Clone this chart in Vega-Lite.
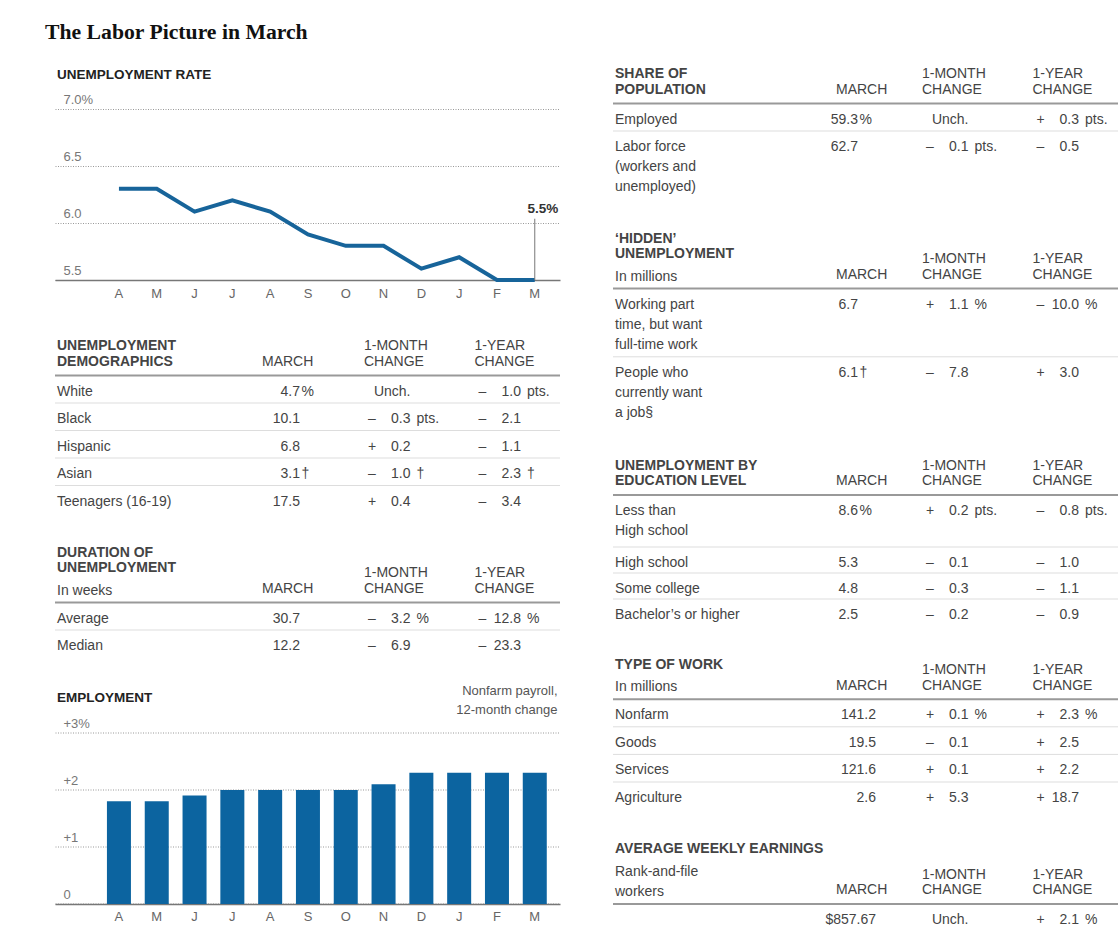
{
  "$schema": "https://vega.github.io/schema/vega-lite/v6.json",
  "padding": {"left": 45, "top": 21, "right": 0, "bottom": 0},
  "background": "white",
  "title": {"text": "The Labor Picture in March", "font": "Liberation Serif", "fontSize": 21.7, "fontWeight": "bold", "color": "#111", "anchor": "start", "frame": "group", "dx": -10, "offset": 24},
  "spacing": 51,
  "datasets": {
    "rate": [
      {"month": "Apr 2014", "rate": 6.3}, {"month": "May 2014", "rate": 6.3}, {"month": "Jun 2014", "rate": 6.1},
      {"month": "Jul 2014", "rate": 6.2}, {"month": "Aug 2014", "rate": 6.1}, {"month": "Sep 2014", "rate": 5.9},
      {"month": "Oct 2014", "rate": 5.8}, {"month": "Nov 2014", "rate": 5.8}, {"month": "Dec 2014", "rate": 5.6},
      {"month": "Jan 2015", "rate": 5.7}, {"month": "Feb 2015", "rate": 5.5}, {"month": "Mar 2015", "rate": 5.5}
    ],
    "payroll": [
      {"month": "Apr 2014", "change": 1.8}, {"month": "May 2014", "change": 1.8}, {"month": "Jun 2014", "change": 1.9},
      {"month": "Jul 2014", "change": 2.0}, {"month": "Aug 2014", "change": 2.0}, {"month": "Sep 2014", "change": 2.0},
      {"month": "Oct 2014", "change": 2.0}, {"month": "Nov 2014", "change": 2.1}, {"month": "Dec 2014", "change": 2.3},
      {"month": "Jan 2015", "change": 2.3}, {"month": "Feb 2015", "change": 2.3}, {"month": "Mar 2015", "change": 2.3}
    ],
    "cells": [
      {"t": "demo", "item": "head", "col": "label", "num": ["UNEMPLOYMENT", "DEMOGRAPHICS"]},
      {"t": "demo", "item": "head", "col": "march", "num": "MARCH"},
      {"t": "demo", "item": "head", "col": "m1", "num": ["1-MONTH", "CHANGE"]},
      {"t": "demo", "item": "head", "col": "y1", "num": ["1-YEAR", "CHANGE"]},
      {"t": "demo", "item": "White", "col": "label", "num": "White"},
      {"t": "demo", "item": "White", "col": "march", "num": "4.7", "unit": "%"},
      {"t": "demo", "item": "White", "col": "m1", "num": "Unch."},
      {"t": "demo", "item": "White", "col": "y1", "sign": "–", "num": "1.0", "unit": "pts."},
      {"t": "demo", "item": "Black", "col": "label", "num": "Black"},
      {"t": "demo", "item": "Black", "col": "march", "num": "10.1"},
      {"t": "demo", "item": "Black", "col": "m1", "sign": "–", "num": "0.3", "unit": "pts."},
      {"t": "demo", "item": "Black", "col": "y1", "sign": "–", "num": "2.1"},
      {"t": "demo", "item": "Hispanic", "col": "label", "num": "Hispanic"},
      {"t": "demo", "item": "Hispanic", "col": "march", "num": "6.8"},
      {"t": "demo", "item": "Hispanic", "col": "m1", "sign": "+", "num": "0.2"},
      {"t": "demo", "item": "Hispanic", "col": "y1", "sign": "–", "num": "1.1"},
      {"t": "demo", "item": "Asian", "col": "label", "num": "Asian"},
      {"t": "demo", "item": "Asian", "col": "march", "num": "3.1", "unit": "†"},
      {"t": "demo", "item": "Asian", "col": "m1", "sign": "–", "num": "1.0", "unit": "†"},
      {"t": "demo", "item": "Asian", "col": "y1", "sign": "–", "num": "2.3", "unit": "†"},
      {"t": "demo", "item": "Teenagers (16-19)", "col": "label", "num": "Teenagers (16-19)"},
      {"t": "demo", "item": "Teenagers (16-19)", "col": "march", "num": "17.5"},
      {"t": "demo", "item": "Teenagers (16-19)", "col": "m1", "sign": "+", "num": "0.4"},
      {"t": "demo", "item": "Teenagers (16-19)", "col": "y1", "sign": "–", "num": "3.4"},

      {"t": "dur", "item": "head", "col": "label", "num": ["DURATION OF", "UNEMPLOYMENT"], "sub": "In weeks"},
      {"t": "dur", "item": "head", "col": "march", "num": "MARCH"},
      {"t": "dur", "item": "head", "col": "m1", "num": ["1-MONTH", "CHANGE"]},
      {"t": "dur", "item": "head", "col": "y1", "num": ["1-YEAR", "CHANGE"]},
      {"t": "dur", "item": "Average", "col": "label", "num": "Average"},
      {"t": "dur", "item": "Average", "col": "march", "num": "30.7"},
      {"t": "dur", "item": "Average", "col": "m1", "sign": "–", "num": "3.2", "unit": "%"},
      {"t": "dur", "item": "Average", "col": "y1", "sign": "–", "num": "12.8", "unit": "%"},
      {"t": "dur", "item": "Median", "col": "label", "num": "Median"},
      {"t": "dur", "item": "Median", "col": "march", "num": "12.2"},
      {"t": "dur", "item": "Median", "col": "m1", "sign": "–", "num": "6.9"},
      {"t": "dur", "item": "Median", "col": "y1", "sign": "–", "num": "23.3"},

      {"t": "share", "item": "head", "col": "label", "num": ["SHARE OF", "POPULATION"]},
      {"t": "share", "item": "head", "col": "march", "num": "MARCH"},
      {"t": "share", "item": "head", "col": "m1", "num": ["1-MONTH", "CHANGE"]},
      {"t": "share", "item": "head", "col": "y1", "num": ["1-YEAR", "CHANGE"]},
      {"t": "share", "item": "Employed", "col": "label", "num": "Employed"},
      {"t": "share", "item": "Employed", "col": "march", "num": "59.3", "unit": "%"},
      {"t": "share", "item": "Employed", "col": "m1", "num": "Unch."},
      {"t": "share", "item": "Employed", "col": "y1", "sign": "+", "num": "0.3", "unit": "pts."},
      {"t": "share", "item": "Labor force", "col": "label", "num": ["Labor force", "(workers and", "unemployed)"]},
      {"t": "share", "item": "Labor force", "col": "march", "num": "62.7"},
      {"t": "share", "item": "Labor force", "col": "m1", "sign": "–", "num": "0.1", "unit": "pts."},
      {"t": "share", "item": "Labor force", "col": "y1", "sign": "–", "num": "0.5"},

      {"t": "hidden", "item": "head", "col": "label", "num": ["‘HIDDEN’", "UNEMPLOYMENT"], "sub": "In millions"},
      {"t": "hidden", "item": "head", "col": "march", "num": "MARCH"},
      {"t": "hidden", "item": "head", "col": "m1", "num": ["1-MONTH", "CHANGE"]},
      {"t": "hidden", "item": "head", "col": "y1", "num": ["1-YEAR", "CHANGE"]},
      {"t": "hidden", "item": "Working part time", "col": "label", "num": ["Working part", "time, but want", "full-time work"]},
      {"t": "hidden", "item": "Working part time", "col": "march", "num": "6.7"},
      {"t": "hidden", "item": "Working part time", "col": "m1", "sign": "+", "num": "1.1", "unit": "%"},
      {"t": "hidden", "item": "Working part time", "col": "y1", "sign": "–", "num": "10.0", "unit": "%"},
      {"t": "hidden", "item": "Want a job", "col": "label", "num": ["People who", "currently want", "a job§"]},
      {"t": "hidden", "item": "Want a job", "col": "march", "num": "6.1", "unit": "†"},
      {"t": "hidden", "item": "Want a job", "col": "m1", "sign": "–", "num": "7.8"},
      {"t": "hidden", "item": "Want a job", "col": "y1", "sign": "+", "num": "3.0"},

      {"t": "edu", "item": "head", "col": "label", "num": ["UNEMPLOYMENT BY", "EDUCATION LEVEL"]},
      {"t": "edu", "item": "head", "col": "march", "num": "MARCH"},
      {"t": "edu", "item": "head", "col": "m1", "num": ["1-MONTH", "CHANGE"]},
      {"t": "edu", "item": "head", "col": "y1", "num": ["1-YEAR", "CHANGE"]},
      {"t": "edu", "item": "Less than high school", "col": "label", "num": ["Less than", "High school"]},
      {"t": "edu", "item": "Less than high school", "col": "march", "num": "8.6", "unit": "%"},
      {"t": "edu", "item": "Less than high school", "col": "m1", "sign": "+", "num": "0.2", "unit": "pts."},
      {"t": "edu", "item": "Less than high school", "col": "y1", "sign": "–", "num": "0.8", "unit": "pts."},
      {"t": "edu", "item": "High school", "col": "label", "num": "High school"},
      {"t": "edu", "item": "High school", "col": "march", "num": "5.3"},
      {"t": "edu", "item": "High school", "col": "m1", "sign": "–", "num": "0.1"},
      {"t": "edu", "item": "High school", "col": "y1", "sign": "–", "num": "1.0"},
      {"t": "edu", "item": "Some college", "col": "label", "num": "Some college"},
      {"t": "edu", "item": "Some college", "col": "march", "num": "4.8"},
      {"t": "edu", "item": "Some college", "col": "m1", "sign": "–", "num": "0.3"},
      {"t": "edu", "item": "Some college", "col": "y1", "sign": "–", "num": "1.1"},
      {"t": "edu", "item": "Bachelor’s or higher", "col": "label", "num": "Bachelor’s or higher"},
      {"t": "edu", "item": "Bachelor’s or higher", "col": "march", "num": "2.5"},
      {"t": "edu", "item": "Bachelor’s or higher", "col": "m1", "sign": "–", "num": "0.2"},
      {"t": "edu", "item": "Bachelor’s or higher", "col": "y1", "sign": "–", "num": "0.9"},

      {"t": "type", "item": "head", "col": "label", "num": "TYPE OF WORK", "sub": "In millions"},
      {"t": "type", "item": "head", "col": "march", "num": "MARCH"},
      {"t": "type", "item": "head", "col": "m1", "num": ["1-MONTH", "CHANGE"]},
      {"t": "type", "item": "head", "col": "y1", "num": ["1-YEAR", "CHANGE"]},
      {"t": "type", "item": "Nonfarm", "col": "label", "num": "Nonfarm"},
      {"t": "type", "item": "Nonfarm", "col": "march", "num": "141.2"},
      {"t": "type", "item": "Nonfarm", "col": "m1", "sign": "+", "num": "0.1", "unit": "%"},
      {"t": "type", "item": "Nonfarm", "col": "y1", "sign": "+", "num": "2.3", "unit": "%"},
      {"t": "type", "item": "Goods", "col": "label", "num": "Goods"},
      {"t": "type", "item": "Goods", "col": "march", "num": "19.5"},
      {"t": "type", "item": "Goods", "col": "m1", "sign": "–", "num": "0.1"},
      {"t": "type", "item": "Goods", "col": "y1", "sign": "+", "num": "2.5"},
      {"t": "type", "item": "Services", "col": "label", "num": "Services"},
      {"t": "type", "item": "Services", "col": "march", "num": "121.6"},
      {"t": "type", "item": "Services", "col": "m1", "sign": "+", "num": "0.1"},
      {"t": "type", "item": "Services", "col": "y1", "sign": "+", "num": "2.2"},
      {"t": "type", "item": "Agriculture", "col": "label", "num": "Agriculture"},
      {"t": "type", "item": "Agriculture", "col": "march", "num": "2.6"},
      {"t": "type", "item": "Agriculture", "col": "m1", "sign": "+", "num": "5.3"},
      {"t": "type", "item": "Agriculture", "col": "y1", "sign": "+", "num": "18.7"},

      {"t": "earn", "item": "head", "col": "label", "num": "AVERAGE WEEKLY EARNINGS", "sub": ["Rank-and-file", "workers"]},
      {"t": "earn", "item": "head", "col": "march", "num": "MARCH"},
      {"t": "earn", "item": "head", "col": "m1", "num": ["1-MONTH", "CHANGE"]},
      {"t": "earn", "item": "head", "col": "y1", "num": ["1-YEAR", "CHANGE"]},
      {"t": "earn", "item": "Rank-and-file workers", "col": "label", "num": ""},
      {"t": "earn", "item": "Rank-and-file workers", "col": "march", "num": "$857.67"},
      {"t": "earn", "item": "Rank-and-file workers", "col": "m1", "num": "Unch."},
      {"t": "earn", "item": "Rank-and-file workers", "col": "y1", "sign": "+", "num": "2.1", "unit": "%"}
    ]
  },
  "hconcat": [
    {
      "bounds": "flush",
      "spacing": 61.5,
      "vconcat": [
        {
          "width": 505,
          "height": 204.06,
          "title": {"text": "UNEMPLOYMENT RATE", "anchor": "start", "frame": "group", "dx": 2, "offset": -5.4},
          "data": {"name": "rate"},
          "encoding": {
            "x": {"field": "month", "type": "ordinal",
              "scale": {"type": "band", "domain": ["Apr 2014","May 2014","Jun 2014","Jul 2014","Aug 2014","Sep 2014","Oct 2014","Nov 2014","Dec 2014","Jan 2015","Feb 2015","Mar 2015"], "paddingInner": 0.365, "paddingOuter": 0.862, "align": 0.797},
              "axis": {"title": null, "labelExpr": "slice(datum.label, 0, 1)", "labelAngle": 0, "ticks": false, "grid": false, "domainColor": "#777", "domainWidth": 1.5, "labelPadding": 7, "labelFontSize": 13, "labelColor": "#666"}},
            "y": {"field": "rate", "type": "quantitative",
              "scale": {"domain": [5.5, 7.29], "nice": false, "zero": false},
              "axis": {"title": null, "values": [5.5, 6, 6.5, 7], "grid": true, "gridDash": [1, 1.5], "gridColor": "#999", "domain": false, "ticks": false, "labelAlign": "left", "labelBaseline": "alphabetic", "labelPadding": -8, "labelOffset": -5.3, "labelFontSize": 13, "labelColor": "#777", "labelExpr": "datum.value == 7 ? '7.0%' : format(datum.value, '.1f')"}}
          },
          "layer": [
            {"mark": {"type": "line", "color": "#17649a", "strokeWidth": 4}},
            {"transform": [{"filter": "datum.month == 'Mar 2015'"}],
             "mark": {"type": "rule", "color": "#777", "strokeWidth": 1},
             "encoding": {"y2": {"datum": 6.038}}},
            {"transform": [{"filter": "datum.month == 'Mar 2015'"}, {"calculate": "format(datum.rate, '.1f') + '%'", "as": "lab"}],
             "mark": {"type": "text", "fontWeight": "bold", "fontSize": 13.5, "fill": "#333", "align": "center", "baseline": "alphabetic", "dx": 8, "dy": -66.6},
             "encoding": {"text": {"field": "lab", "type": "nominal"}}}
          ]
        },
        {
          "width": 505, "height": 170.5,
          "data": {"name": "cells"},
          "transform": [{"filter": "datum.t == 'demo'"}],
          "encoding": {"y": {"field": "item", "type": "nominal", "bandPosition": 0, "axis": null, "scale": {"type": "band", "domain": ["head", "White", "Black", "Hispanic", "Asian", "Teenagers (16-19)"], "paddingInner": 0, "paddingOuter": 0.1, "align": 1}}},
          "layer": [
            {"transform": [{"filter": "datum.col == 'label' && datum.item != 'head'"}, {"window": [{"op": "row_number", "as": "rn"}]}],
             "mark": {"type": "rule"},
             "encoding": {"color": {"condition": {"test": "datum.rn == 1", "value": "#999"}, "value": "#ddd"}, "strokeWidth": {"condition": {"test": "datum.rn == 1", "value": 2}, "value": 1}}},
            {"encoding": {"x": {"field": "col", "type": "nominal", "bandPosition": 1, "axis": null, "scale": {"type": "band", "domain": ["label", "march", "m1", "y1"], "paddingInner": 0, "paddingOuter": 0.285, "align": 0.381}}},
             "layer": [
               {"transform": [{"filter": "datum.item != 'head' && datum.col == 'label'"}], "mark": {"type": "text", "style": "lab"}, "encoding": {"text": {"field": "num", "type": "nominal"}}},
               {"transform": [{"filter": "datum.item != 'head' && datum.col != 'label'"}], "mark": {"type": "text", "style": "num"}, "encoding": {"text": {"field": "num", "type": "nominal"}}},
               {"transform": [{"filter": "datum.item != 'head' && datum.sign"}], "mark": {"type": "text", "style": "sgn"}, "encoding": {"text": {"field": "sign", "type": "nominal"}}},
               {"transform": [{"filter": "datum.item != 'head' && datum.unit && datum.col == 'march'"}], "mark": {"type": "text", "style": "unit"}, "encoding": {"text": {"field": "unit", "type": "nominal"}}},
               {"transform": [{"filter": "datum.item != 'head' && datum.unit && datum.col != 'march'"}], "mark": {"type": "text", "style": "unit", "dx": 6}, "encoding": {"text": {"field": "unit", "type": "nominal"}}},
               {"transform": [{"filter": "datum.item == 'head' && datum.col == 'label'"}], "mark": {"type": "text", "style": "htitle", "dy": 5.3}, "encoding": {"text": {"field": "num", "type": "nominal"}}},
               {"transform": [{"filter": "datum.item == 'head' && datum.col == 'march'"}], "mark": {"type": "text", "style": "hcol", "dx": -38, "dy": 20.9}, "encoding": {"text": {"field": "num", "type": "nominal"}}},
               {"transform": [{"filter": "datum.item == 'head' && (datum.col == 'm1' || datum.col == 'y1')"}], "mark": {"type": "text", "style": "hcol", "dy": 5.2}, "encoding": {"text": {"field": "num", "type": "nominal"}}}
             ]}
          ]
        },
        {
          "width": 505, "height": 82.5,
          "data": {"name": "cells"},
          "transform": [{"filter": "datum.t == 'dur'"}],
          "encoding": {"y": {"field": "item", "type": "nominal", "bandPosition": 0, "axis": null, "scale": {"type": "band", "domain": ["head", "Average", "Median"], "paddingInner": 0, "paddingOuter": 0}}},
          "layer": [
            {"transform": [{"filter": "datum.col == 'label' && datum.item != 'head'"}, {"window": [{"op": "row_number", "as": "rn"}]}],
             "mark": {"type": "rule"},
             "encoding": {"color": {"condition": {"test": "datum.rn == 1", "value": "#999"}, "value": "#ddd"}, "strokeWidth": {"condition": {"test": "datum.rn == 1", "value": 2}, "value": 1}}},
            {"encoding": {"x": {"field": "col", "type": "nominal", "bandPosition": 1, "axis": null, "scale": {"type": "band", "domain": ["label", "march", "m1", "y1"], "paddingInner": 0, "paddingOuter": 0.285, "align": 0.381}}},
             "layer": [
               {"transform": [{"filter": "datum.item != 'head' && datum.col == 'label'"}], "mark": {"type": "text", "style": "lab"}, "encoding": {"text": {"field": "num", "type": "nominal"}}},
               {"transform": [{"filter": "datum.item != 'head' && datum.col != 'label'"}], "mark": {"type": "text", "style": "num"}, "encoding": {"text": {"field": "num", "type": "nominal"}}},
               {"transform": [{"filter": "datum.item != 'head' && datum.sign"}], "mark": {"type": "text", "style": "sgn"}, "encoding": {"text": {"field": "sign", "type": "nominal"}}},
               {"transform": [{"filter": "datum.item != 'head' && datum.unit && datum.col == 'march'"}], "mark": {"type": "text", "style": "unit"}, "encoding": {"text": {"field": "unit", "type": "nominal"}}},
               {"transform": [{"filter": "datum.item != 'head' && datum.unit && datum.col != 'march'"}], "mark": {"type": "text", "style": "unit", "dx": 6}, "encoding": {"text": {"field": "unit", "type": "nominal"}}},
               {"transform": [{"filter": "datum.item == 'head' && datum.col == 'label'"}], "mark": {"type": "text", "style": "htitle", "dy": -15.5}, "encoding": {"text": {"field": "num", "type": "nominal"}}},
               {"transform": [{"filter": "datum.item == 'head' && datum.col == 'label'"}], "mark": {"type": "text", "style": "hsub", "dy": 22.5}, "encoding": {"text": {"field": "sub", "type": "nominal"}}},
               {"transform": [{"filter": "datum.item == 'head' && datum.col == 'march'"}], "mark": {"type": "text", "style": "hcol", "dx": -38, "dy": 20.9}, "encoding": {"text": {"field": "num", "type": "nominal"}}},
               {"transform": [{"filter": "datum.item == 'head' && (datum.col == 'm1' || datum.col == 'y1')"}], "mark": {"type": "text", "style": "hcol", "dy": 5.2}, "encoding": {"text": {"field": "num", "type": "nominal"}}}
             ]}
          ]
        },
        {
          "width": 505,
          "height": 184.4,
          "title": {"text": "EMPLOYMENT", "anchor": "start", "frame": "group", "dx": 2, "offset": -20.3},
          "data": {"name": "payroll"},
          "mark": {"type": "bar", "color": "#0c64a0"},
          "encoding": {
            "x": {"field": "month", "type": "ordinal",
              "scale": {"type": "band", "domain": ["Apr 2014","May 2014","Jun 2014","Jul 2014","Aug 2014","Sep 2014","Oct 2014","Nov 2014","Dec 2014","Jan 2015","Feb 2015","Mar 2015"], "paddingInner": 0.365, "paddingOuter": 0.862, "align": 0.797},
              "axis": {"title": null, "labelExpr": "slice(datum.label, 0, 1)", "labelAngle": 0, "ticks": false, "grid": false, "domainColor": "#777", "domainWidth": 1.5, "labelPadding": 7, "labelFontSize": 13, "labelColor": "#666"}},
            "y": {"field": "change", "type": "quantitative",
              "scale": {"domain": [0, 3.235], "nice": false},
              "axis": {"title": ["Nonfarm payroll,", "12-month change"], "titleAngle": 0, "titleAlign": "right", "titleBaseline": "alphabetic", "titleX": 502, "titleY": -25.4, "titleFontWeight": "normal", "titleFontSize": 13, "titleColor": "#555", "titleLineHeight": 19,
                "values": [0, 1, 2, 3], "grid": true, "gridDash": [1, 1.5], "gridColor": "#999", "domain": false, "ticks": false, "labelAlign": "left", "labelBaseline": "alphabetic", "labelPadding": -8, "labelOffset": -5.3, "labelFontSize": 13, "labelColor": "#777",
                "labelExpr": "datum.value == 3 ? '+3%' : datum.value == 0 ? '0' : '+' + datum.value"}}
          }
        }
      ]
    },
    {
      "bounds": "flush",
      "spacing": 43.5,
      "vconcat": [
        {
          "width": 505, "height": 82.5,
          "data": {"name": "cells"},
          "transform": [{"filter": "datum.t == 'share'"}],
          "encoding": {"y": {"field": "item", "type": "nominal", "bandPosition": 0, "axis": null, "scale": {"type": "band", "domain": ["head", "Employed", "Labor force"], "paddingInner": 0, "paddingOuter": 0}}},
          "layer": [
            {"transform": [{"filter": "datum.col == 'label' && datum.item != 'head'"}, {"window": [{"op": "row_number", "as": "rn"}]}],
             "mark": {"type": "rule"},
             "encoding": {"color": {"condition": {"test": "datum.rn == 1", "value": "#999"}, "value": "#ddd"}, "strokeWidth": {"condition": {"test": "datum.rn == 1", "value": 2}, "value": 1}}},
            {"encoding": {"x": {"field": "col", "type": "nominal", "bandPosition": 1, "axis": null, "scale": {"type": "band", "domain": ["label", "march", "m1", "y1"], "paddingInner": 0, "paddingOuter": 0.285, "align": 0.381}}},
             "layer": [
               {"transform": [{"filter": "datum.item != 'head' && datum.col == 'label'"}], "mark": {"type": "text", "style": "lab"}, "encoding": {"text": {"field": "num", "type": "nominal"}}},
               {"transform": [{"filter": "datum.item != 'head' && datum.col != 'label'"}], "mark": {"type": "text", "style": "num"}, "encoding": {"text": {"field": "num", "type": "nominal"}}},
               {"transform": [{"filter": "datum.item != 'head' && datum.sign"}], "mark": {"type": "text", "style": "sgn"}, "encoding": {"text": {"field": "sign", "type": "nominal"}}},
               {"transform": [{"filter": "datum.item != 'head' && datum.unit && datum.col == 'march'"}], "mark": {"type": "text", "style": "unit"}, "encoding": {"text": {"field": "unit", "type": "nominal"}}},
               {"transform": [{"filter": "datum.item != 'head' && datum.unit && datum.col != 'march'"}], "mark": {"type": "text", "style": "unit", "dx": 6}, "encoding": {"text": {"field": "unit", "type": "nominal"}}},
               {"transform": [{"filter": "datum.item == 'head' && datum.col == 'label'"}], "mark": {"type": "text", "style": "htitle", "dy": 5.3}, "encoding": {"text": {"field": "num", "type": "nominal"}}},
               {"transform": [{"filter": "datum.item == 'head' && datum.col == 'march'"}], "mark": {"type": "text", "style": "hcol", "dx": -22, "dy": 20.9}, "encoding": {"text": {"field": "num", "type": "nominal"}}},
               {"transform": [{"filter": "datum.item == 'head' && (datum.col == 'm1' || datum.col == 'y1')"}], "mark": {"type": "text", "style": "hcol", "dy": 5.2}, "encoding": {"text": {"field": "num", "type": "nominal"}}}
             ]}
          ]
        },
        {
          "width": 505, "height": 222.6,
          "data": {"name": "cells"},
          "transform": [{"filter": "datum.t == 'hidden'"}],
          "encoding": {"y": {"field": "item", "type": "nominal", "bandPosition": 0, "axis": null, "scale": {"type": "band", "domain": ["head", "Working part time", "Want a job"], "paddingInner": 0, "paddingOuter": 0.1296, "align": 1}}},
          "layer": [
            {"transform": [{"filter": "datum.col == 'label' && datum.item != 'head'"}, {"window": [{"op": "row_number", "as": "rn"}]}],
             "mark": {"type": "rule"},
             "encoding": {"color": {"condition": {"test": "datum.rn == 1", "value": "#999"}, "value": "#ddd"}, "strokeWidth": {"condition": {"test": "datum.rn == 1", "value": 2}, "value": 1}}},
            {"encoding": {"x": {"field": "col", "type": "nominal", "bandPosition": 1, "axis": null, "scale": {"type": "band", "domain": ["label", "march", "m1", "y1"], "paddingInner": 0, "paddingOuter": 0.285, "align": 0.381}}},
             "layer": [
               {"transform": [{"filter": "datum.item != 'head' && datum.col == 'label'"}], "mark": {"type": "text", "style": "lab"}, "encoding": {"text": {"field": "num", "type": "nominal"}}},
               {"transform": [{"filter": "datum.item != 'head' && datum.col != 'label'"}], "mark": {"type": "text", "style": "num"}, "encoding": {"text": {"field": "num", "type": "nominal"}}},
               {"transform": [{"filter": "datum.item != 'head' && datum.sign"}], "mark": {"type": "text", "style": "sgn"}, "encoding": {"text": {"field": "sign", "type": "nominal"}}},
               {"transform": [{"filter": "datum.item != 'head' && datum.unit && datum.col == 'march'"}], "mark": {"type": "text", "style": "unit"}, "encoding": {"text": {"field": "unit", "type": "nominal"}}},
               {"transform": [{"filter": "datum.item != 'head' && datum.unit && datum.col != 'march'"}], "mark": {"type": "text", "style": "unit", "dx": 6}, "encoding": {"text": {"field": "unit", "type": "nominal"}}},
               {"transform": [{"filter": "datum.item == 'head' && datum.col == 'label'"}], "mark": {"type": "text", "style": "htitle", "dy": 25.3}, "encoding": {"text": {"field": "num", "type": "nominal"}}},
               {"transform": [{"filter": "datum.item == 'head' && datum.col == 'label'"}], "mark": {"type": "text", "style": "hsub", "dy": 63.3}, "encoding": {"text": {"field": "sub", "type": "nominal"}}},
               {"transform": [{"filter": "datum.item == 'head' && datum.col == 'march'"}], "mark": {"type": "text", "style": "hcol", "dx": -22, "dy": 61.7}, "encoding": {"text": {"field": "num", "type": "nominal"}}},
               {"transform": [{"filter": "datum.item == 'head' && (datum.col == 'm1' || datum.col == 'y1')"}], "mark": {"type": "text", "style": "hcol", "dy": 46}, "encoding": {"text": {"field": "num", "type": "nominal"}}}
             ]}
          ]
        },
        {
          "width": 505, "height": 156,
          "data": {"name": "cells"},
          "transform": [{"filter": "datum.t == 'edu'"}],
          "encoding": {"y": {"field": "item", "type": "nominal", "bandPosition": 0, "axis": null, "scale": {"type": "band", "domain": ["head", "Less than high school", "Less than high school (cont.)", "High school", "Some college", "Bachelor’s or higher"], "paddingInner": 0, "paddingOuter": 0}}},
          "layer": [
            {"transform": [{"filter": "datum.col == 'label' && datum.item != 'head'"}, {"window": [{"op": "row_number", "as": "rn"}]}],
             "mark": {"type": "rule"},
             "encoding": {"color": {"condition": {"test": "datum.rn == 1", "value": "#999"}, "value": "#ddd"}, "strokeWidth": {"condition": {"test": "datum.rn == 1", "value": 2}, "value": 1}}},
            {"encoding": {"x": {"field": "col", "type": "nominal", "bandPosition": 1, "axis": null, "scale": {"type": "band", "domain": ["label", "march", "m1", "y1"], "paddingInner": 0, "paddingOuter": 0.285, "align": 0.381}}},
             "layer": [
               {"transform": [{"filter": "datum.item != 'head' && datum.col == 'label'"}], "mark": {"type": "text", "style": "lab"}, "encoding": {"text": {"field": "num", "type": "nominal"}}},
               {"transform": [{"filter": "datum.item != 'head' && datum.col != 'label'"}], "mark": {"type": "text", "style": "num"}, "encoding": {"text": {"field": "num", "type": "nominal"}}},
               {"transform": [{"filter": "datum.item != 'head' && datum.sign"}], "mark": {"type": "text", "style": "sgn"}, "encoding": {"text": {"field": "sign", "type": "nominal"}}},
               {"transform": [{"filter": "datum.item != 'head' && datum.unit && datum.col == 'march'"}], "mark": {"type": "text", "style": "unit"}, "encoding": {"text": {"field": "unit", "type": "nominal"}}},
               {"transform": [{"filter": "datum.item != 'head' && datum.unit && datum.col != 'march'"}], "mark": {"type": "text", "style": "unit", "dx": 6}, "encoding": {"text": {"field": "unit", "type": "nominal"}}},
               {"transform": [{"filter": "datum.item == 'head' && datum.col == 'label'"}], "mark": {"type": "text", "style": "htitle", "dy": 3.8}, "encoding": {"text": {"field": "num", "type": "nominal"}}},
               {"transform": [{"filter": "datum.item == 'head' && datum.col == 'march'"}], "mark": {"type": "text", "style": "hcol", "dx": -22, "dy": 19.4}, "encoding": {"text": {"field": "num", "type": "nominal"}}},
               {"transform": [{"filter": "datum.item == 'head' && (datum.col == 'm1' || datum.col == 'y1')"}], "mark": {"type": "text", "style": "hcol", "dy": 3.7}, "encoding": {"text": {"field": "num", "type": "nominal"}}}
             ]}
          ]
        },
        {
          "width": 505, "height": 141.1,
          "data": {"name": "cells"},
          "transform": [{"filter": "datum.t == 'type'"}],
          "encoding": {"y": {"field": "item", "type": "nominal", "bandPosition": 0, "axis": null, "scale": {"type": "band", "domain": ["head", "Nonfarm", "Goods", "Services", "Agriculture"], "paddingInner": 0, "paddingOuter": 0.0562, "align": 1}}},
          "layer": [
            {"transform": [{"filter": "datum.col == 'label' && datum.item != 'head'"}, {"window": [{"op": "row_number", "as": "rn"}]}],
             "mark": {"type": "rule"},
             "encoding": {"color": {"condition": {"test": "datum.rn == 1", "value": "#999"}, "value": "#ddd"}, "strokeWidth": {"condition": {"test": "datum.rn == 1", "value": 2}, "value": 1}}},
            {"encoding": {"x": {"field": "col", "type": "nominal", "bandPosition": 1, "axis": null, "scale": {"type": "band", "domain": ["label", "march", "m1", "y1"], "paddingInner": 0, "paddingOuter": 0.285, "align": 0.381}}},
             "layer": [
               {"transform": [{"filter": "datum.item != 'head' && datum.col == 'label'"}], "mark": {"type": "text", "style": "lab"}, "encoding": {"text": {"field": "num", "type": "nominal"}}},
               {"transform": [{"filter": "datum.item != 'head' && datum.col == 'march'"}], "mark": {"type": "text", "style": "num", "dx": 18}, "encoding": {"text": {"field": "num", "type": "nominal"}}},
               {"transform": [{"filter": "datum.item != 'head' && (datum.col == 'm1' || datum.col == 'y1')"}], "mark": {"type": "text", "style": "num"}, "encoding": {"text": {"field": "num", "type": "nominal"}}},
               {"transform": [{"filter": "datum.item != 'head' && datum.sign"}], "mark": {"type": "text", "style": "sgn"}, "encoding": {"text": {"field": "sign", "type": "nominal"}}},
               {"transform": [{"filter": "datum.item != 'head' && datum.unit && datum.col != 'march'"}], "mark": {"type": "text", "style": "unit", "dx": 6}, "encoding": {"text": {"field": "unit", "type": "nominal"}}},
               {"transform": [{"filter": "datum.item == 'head' && datum.col == 'label'"}], "mark": {"type": "text", "style": "htitle", "dy": 0.3}, "encoding": {"text": {"field": "num", "type": "nominal"}}},
               {"transform": [{"filter": "datum.item == 'head' && datum.col == 'label'"}], "mark": {"type": "text", "style": "hsub", "dy": 22.6}, "encoding": {"text": {"field": "sub", "type": "nominal"}}},
               {"transform": [{"filter": "datum.item == 'head' && datum.col == 'march'"}], "mark": {"type": "text", "style": "hcol", "dx": -22, "dy": 21}, "encoding": {"text": {"field": "num", "type": "nominal"}}},
               {"transform": [{"filter": "datum.item == 'head' && (datum.col == 'm1' || datum.col == 'y1')"}], "mark": {"type": "text", "style": "hcol", "dy": 5.3}, "encoding": {"text": {"field": "num", "type": "nominal"}}}
             ]}
          ]
        },
        {
          "width": 505, "height": 73.9,
          "data": {"name": "cells"},
          "transform": [{"filter": "datum.t == 'earn'"}],
          "encoding": {"y": {"field": "item", "type": "nominal", "bandPosition": 0, "axis": null, "scale": {"type": "band", "domain": ["head", "Rank-and-file workers"], "paddingInner": 0, "paddingOuter": 0.54, "align": 1}}},
          "layer": [
            {"transform": [{"filter": "datum.col == 'label' && datum.item != 'head'"}, {"window": [{"op": "row_number", "as": "rn"}]}],
             "mark": {"type": "rule"},
             "encoding": {"color": {"condition": {"test": "datum.rn == 1", "value": "#999"}, "value": "#ddd"}, "strokeWidth": {"condition": {"test": "datum.rn == 1", "value": 2}, "value": 1}}},
            {"encoding": {"x": {"field": "col", "type": "nominal", "bandPosition": 1, "axis": null, "scale": {"type": "band", "domain": ["label", "march", "m1", "y1"], "paddingInner": 0, "paddingOuter": 0.285, "align": 0.381}}},
             "layer": [
               {"transform": [{"filter": "datum.item != 'head' && datum.col == 'march'"}], "mark": {"type": "text", "style": "num", "dx": 18}, "encoding": {"text": {"field": "num", "type": "nominal"}}},
               {"transform": [{"filter": "datum.item != 'head' && (datum.col == 'm1' || datum.col == 'y1')"}], "mark": {"type": "text", "style": "num"}, "encoding": {"text": {"field": "num", "type": "nominal"}}},
               {"transform": [{"filter": "datum.item != 'head' && datum.sign"}], "mark": {"type": "text", "style": "sgn"}, "encoding": {"text": {"field": "sign", "type": "nominal"}}},
               {"transform": [{"filter": "datum.item != 'head' && datum.unit && datum.col != 'march'"}], "mark": {"type": "text", "style": "unit", "dx": 6}, "encoding": {"text": {"field": "unit", "type": "nominal"}}},
               {"transform": [{"filter": "datum.item == 'head' && datum.col == 'label'"}], "mark": {"type": "text", "style": "htitle", "dy": -24}, "encoding": {"text": {"field": "num", "type": "nominal"}}},
               {"transform": [{"filter": "datum.item == 'head' && datum.col == 'label'"}], "mark": {"type": "text", "style": "hsub", "dy": -1}, "encoding": {"text": {"field": "sub", "type": "nominal"}}},
               {"transform": [{"filter": "datum.item == 'head' && datum.col == 'march'"}], "mark": {"type": "text", "style": "hcol", "dx": -22, "dy": 17.4}, "encoding": {"text": {"field": "num", "type": "nominal"}}},
               {"transform": [{"filter": "datum.item == 'head' && (datum.col == 'm1' || datum.col == 'y1')"}], "mark": {"type": "text", "style": "hcol", "dy": 1.7}, "encoding": {"text": {"field": "num", "type": "nominal"}}}
             ]}
          ]
        }
      ]
    }
  ],
  "config": {
    "font": "Liberation Sans",
    "view": {"stroke": null},
    "title": {"font": "Liberation Sans", "fontSize": 13.5, "fontWeight": "bold", "color": "#222", "anchor": "start", "baseline": "alphabetic"},
    "text": {"font": "Liberation Sans", "fontSize": 14, "fill": "#444", "baseline": "alphabetic", "lineHeight": 20},
    "style": {
      "lab": {"align": "left", "dx": -132.5, "dy": 20, "fill": "#333"},
      "num": {"align": "right", "dy": 20, "fill": "#444"},
      "sgn": {"align": "center", "dx": -38.5, "dy": 20, "fill": "#555"},
      "unit": {"align": "left", "dx": 1.5, "dy": 20, "fill": "#888"},
      "htitle": {"align": "left", "baseline": "bottom", "fontSize": 13.5, "fontWeight": "bold", "lineHeight": 15.7, "dx": -132.5, "fill": "#222"},
      "hsub": {"align": "left", "baseline": "bottom", "fontSize": 14, "lineHeight": 20, "dx": -132.5, "fill": "#444"},
      "hcol": {"align": "left", "baseline": "bottom", "fontSize": 13, "lineHeight": 15.7, "dx": -46.5, "fill": "#555"}
    }
  }
}
